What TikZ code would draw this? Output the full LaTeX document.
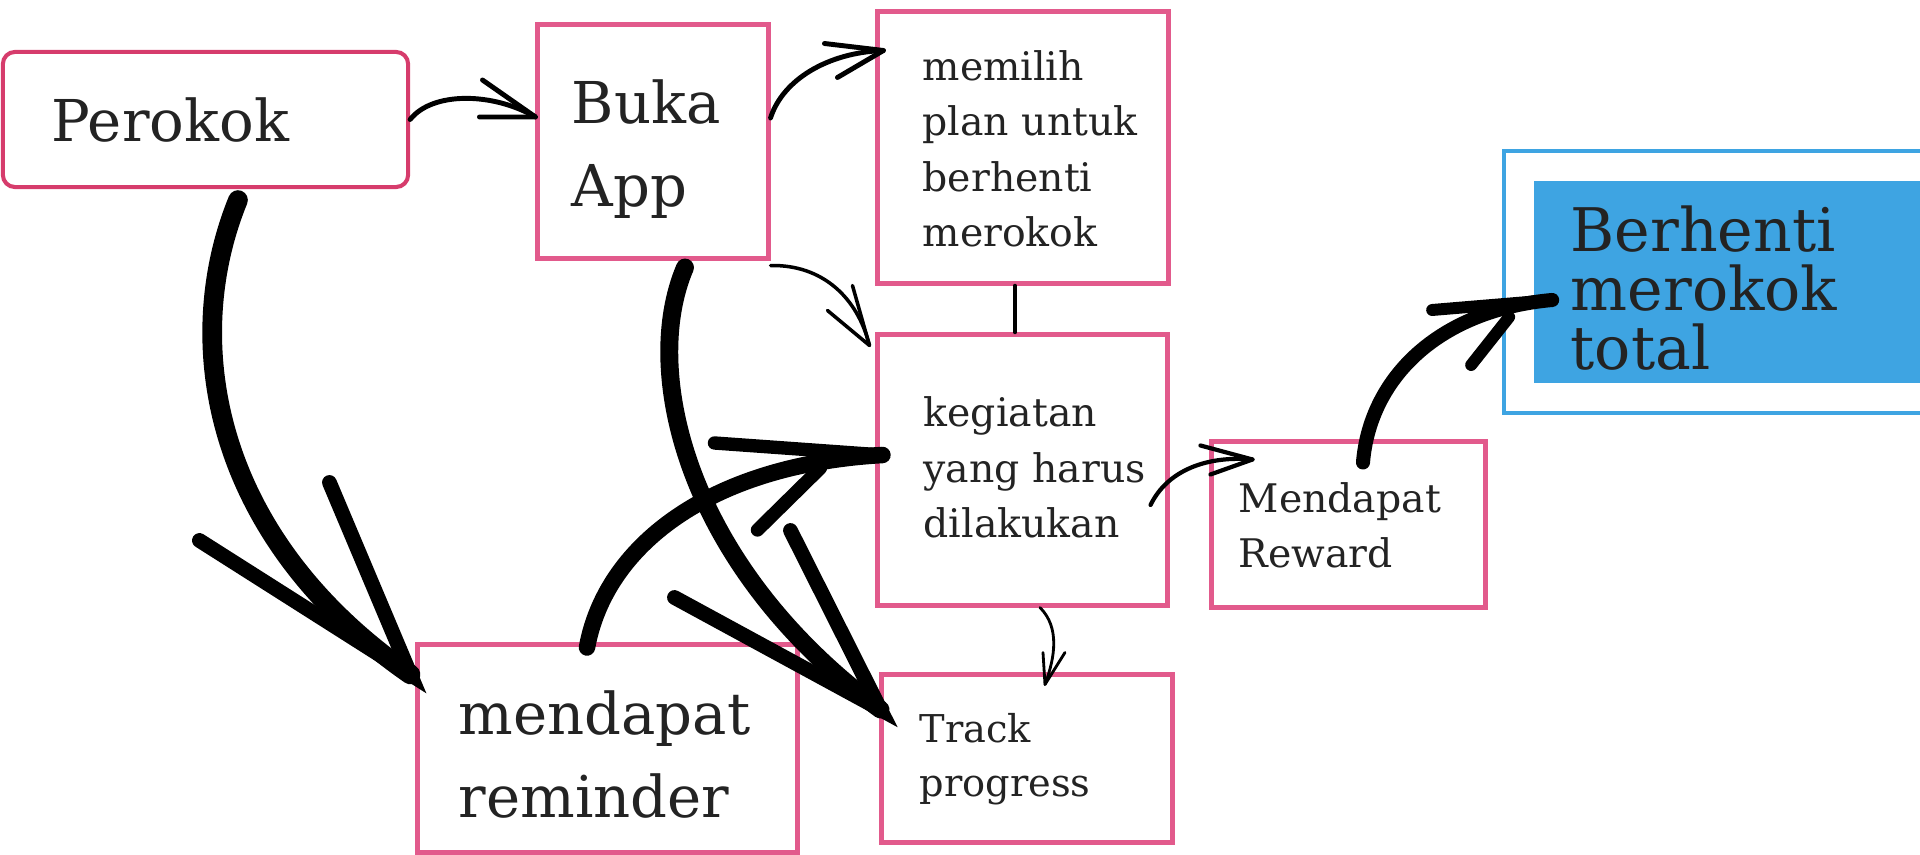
\documentclass[tikz,border=0pt]{standalone}
\usepackage{fontspec}
\setmainfont{DejaVu Serif}
\definecolor{boxpink}{RGB}{226,90,140}
\definecolor{rosered}{RGB}{214,60,108}
\definecolor{goalblue}{RGB}{62,164,226}
\definecolor{ink}{RGB}{35,35,35}
\tikzstyle{pinkbox}=[draw=boxpink, line width=1.4pt, inner sep=0pt]
\tikzstyle{txt}=[inner sep=0pt, anchor=base west, align=left, text=ink]
\tikzstyle{bigtxt}=[txt, font=\fontsize{16.4pt}{23.8pt}\selectfont]
\tikzstyle{smalltxt}=[txt, font=\fontsize{11.2pt}{15.8pt}\selectfont]
\tikzstyle{goaltxt}=[txt, font=\fontsize{17.1pt}{16.8pt}\selectfont]
\tikzstyle{thinline}=[line width=1pt, line cap=round, line join=round]
\tikzstyle{brush}=[line width=5.6pt, line cap=round, line join=round]
\tikzstyle{barb}=[line width=4.2pt, line cap=round]

\begin{document}
\begin{tikzpicture}[x=0.01cm, y=-0.01cm]
\useasboundingbox (0,0) rectangle (1920,855);
\clip (0,0) rectangle (1920,855);
% boxes
\node [pinkbox, draw=rosered, line width=1.15pt, rounded corners=0.12cm, minimum width=4.05cm, minimum height=1.35cm] (perokok) at (205.5,119.5) {};
\node [pinkbox, minimum width=2.3cm, minimum height=2.33cm] (buka) at (653,141.5) {};
\node [pinkbox, minimum width=2.9cm, minimum height=2.71cm] (plan) at (1023,147.5) {};
\node [pinkbox, minimum width=2.89cm, minimum height=2.7cm] (kegiatan) at (1022.5,470) {};
\node [pinkbox, minimum width=2.73cm, minimum height=1.65cm] (reward) at (1348.5,524.5) {};
\node [pinkbox, minimum width=3.79cm, minimum height=2.07cm] (reminder) at (607.5,748.5) {};
\node [pinkbox, minimum width=2.9cm, minimum height=1.67cm] (track) at (1027,758.5) {};
\node [draw=goalblue, line width=1.1pt, inner sep=0pt, minimum width=4.96cm, minimum height=2.62cm] (goalframe) at (1752,282) {};
\node [fill=goalblue, inner sep=0pt, minimum width=4.66cm, minimum height=2.02cm] (goal) at (1767,282) {};

% texts (base = last line)
\node [bigtxt] (tperokok) at (51,142) {Perokok};
\node [bigtxt] (tbuka) at (571,207) {Buka\\App};
\node [smalltxt] (tplan) at (922,247) {memilih\\plan untuk\\berhenti\\merokok};
\node [smalltxt] (tkegiatan) at (923,538) {kegiatan\\yang harus\\dilakukan};
\node [smalltxt] (treward) at (1238,568) {Mendapat\\Reward};
\node [bigtxt] (treminder) at (458,818) {mendapat\\reminder};
\node [smalltxt, font=\fontsize{10.9pt}{15.6pt}\selectfont] (ttrack) at (919,797) {Track\\progress};
\node [goaltxt] (tgoal) at (1570,370) {Berhenti\\merokok\\total};

% thin arrows
\coordinate (tipbuka) at ([shift={(0,-24.5)}]buka.west);
\draw [thinline, line width=1.4pt] (perokok.east) .. controls +(22,-28) and +(-43,-25) .. (tipbuka);
\draw [thinline, line width=1.4pt] ([shift={(-53,-37)}]tipbuka) -- (tipbuka) -- ++(-56,0);

\coordinate (tipplan) at ([shift={(8,-97)}]plan.west);
\draw [thinline, line width=1.4pt] ([shift={(0,-23.5)}]buka.east) .. controls +(12,-38) and +(-56,2) .. (tipplan);
\draw [thinline, line width=1.4pt] ([shift={(-59,-7)}]tipplan) -- (tipplan) -- ++(-46,27);

\coordinate (tipkeg) at ([shift={(-6,13)}]kegiatan.north west);
\draw [thinline] ([shift={(0,5)}]buka.south east) .. controls +(52,-1) and +(-12,-48) .. (tipkeg);
\draw [thinline] ([shift={(-42,-35)}]tipkeg) -- (tipkeg) -- ++(-17,-60);

\draw [thinline] ([shift={(-8,0)}]plan.south) -- ([shift={(-7.5,0)}]kegiatan.north);

\coordinate (tipreward) at ([shift={(43,20)}]reward.north west);
\draw [thinline, line width=1.2pt] ([shift={(-19,35)}]kegiatan.east) .. controls +(17,-35) and +(-45,-4) .. (tipreward);
\draw [thinline, line width=1.2pt] ([shift={(-52,-14)}]tipreward) -- (tipreward) -- ++(-42,15);

\coordinate (tiptrack) at ([shift={(18,12)}]track.north);
\draw [thinline, line width=0.8pt] ([shift={(17.5,0)}]kegiatan.south) .. controls +(20,20) and +(10,-27) .. (tiptrack);
\draw [thinline, line width=0.8pt] ([shift={(-2,-32)}]tiptrack) -- (tiptrack) -- ++(20,-32);

% brush arrows
\coordinate (tipremind) at ([shift={(-5,32)}]reminder.north west);
\draw [brush] ([shift={(32.5,11)}]perokok.south) .. controls +(-58,142) and +(-198,-137) .. (tipremind);
\draw [barb] ([shift={(-211,-134)}]tipremind) -- (tipremind) -- ++(-81,-192);

\coordinate (tipprog) at ([shift={(1,37)}]track.north west);
\draw [brush, line width=5.1pt] ([shift={(32,7)}]buka.south) .. controls +(-45,105) and +(-193,-142) .. (tipprog);
\draw [barb] ([shift={(-206,-112)}]tipprog) -- (tipprog) -- ++(-90,-179);

\coordinate (tipdo) at ([shift={(7,-15)}]kegiatan.west);
\draw [brush, line width=4.7pt] ([shift={(-20.5,5)}]reminder.north) .. controls +(18,-100) and +(-175,10) .. (tipdo);
\draw [barb, line width=3.8pt] ([shift={(-168,-12)}]tipdo) -- (tipdo);
\draw [barb, line width=3.8pt] ([shift={(-125,75)}]tipdo) -- ([shift={(-62,13)}]tipdo);

\coordinate (tipgoal) at ([shift={(19,18)}]goal.west);
\draw [brush, line width=4pt] ([shift={(14.5,23)}]reward.north) .. controls +(7,-85) and +(-113,10) .. (tipgoal);
\draw [barb, line width=3.4pt] ([shift={(-120,10)}]tipgoal) -- (tipgoal);
\draw [barb, line width=3.4pt] ([shift={(-81,65)}]tipgoal) -- ([shift={(-43,17)}]tipgoal);
\end{tikzpicture}
\end{document}
